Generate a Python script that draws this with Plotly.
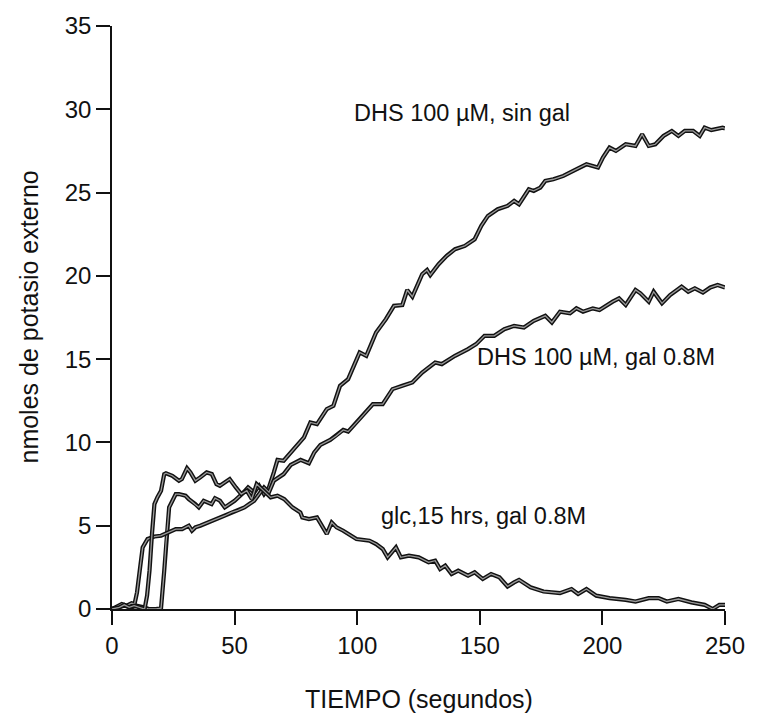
import plotly.graph_objects as go

# ---- data (time in s, nmol external K+) ----
sin_gal_x = [0, 3, 5, 8, 10, 13, 15, 18, 20, 21.3, 22, 23.3, 26, 27.3, 30, 31.3, 34, 35.4, 37.4,
             40.6, 42, 44, 46, 50, 53, 55.5, 58, 60, 62, 64, 66, 67.5, 70, 73, 75.6, 78.3, 80.9,
             83.6, 87.6, 90.3, 93, 96.3, 101, 103.7, 107.7, 111.7, 115, 118.4, 120.4, 122.5, 126.5,
             128.5, 129.8, 133.2, 136.5, 139.9, 143.9, 147.9, 150.6, 153.3, 157.3, 161.3, 164, 166,
             170, 172, 174.7, 176.7, 180, 184.1, 188.1, 193.5, 198.2, 200.2, 202.9, 205.5, 209.5,
             213.5, 216.2, 218.9, 221.6, 224.9, 228.3, 231, 233.6, 237, 239.7, 241.7, 244.4, 249, 250]
sin_gal_y = [0.0, 0.1, 0.2, 0.1, 0.2, 0.1, 0.0, 0.0, 0.05, 2.3, 3.9, 6.1, 6.9, 6.9, 6.8, 6.6, 6.3, 6.1, 6.5,
             6.3, 6.65, 6.5, 6.1, 6.5, 6.9, 7.3, 7.0, 7.4, 6.9, 7.3, 8.2, 8.95, 8.9, 9.4, 9.8, 10.3, 11.2,
             11.1, 12.0, 12.2, 13.4, 13.8, 15.4, 15.2, 16.6, 17.4, 18.2, 18.25, 19.15, 18.75, 20.1,
             20.35, 20.05, 20.7, 21.2, 21.6, 21.8, 22.2, 23.0, 23.6, 24.0, 24.2, 24.5, 24.3,
             25.2, 25.1, 25.3, 25.7, 25.8, 26.0, 26.3, 26.7, 26.5, 27.1, 27.7, 27.5, 27.9,
             27.8, 28.5, 27.8, 27.9, 28.4, 28.7, 28.4, 28.7, 28.7, 28.4, 28.9, 28.75, 28.9, 28.85]

gal_x = [0, 2, 4, 6, 8, 9.2, 10.2, 11.3, 12.5, 14.5, 17.3, 20, 23, 26, 28.6, 31.3, 32.6, 34, 36, 39.4,
         43.4, 46, 48.7, 51, 54, 56, 58, 60, 62, 64, 66, 70, 72.9, 76.9, 80.3, 82.5, 85, 89, 91.5,
         94.3, 96.3, 101, 104, 106.4, 110.4, 114.4, 118.4, 122.5, 126.5, 131.8, 134.5, 139.9, 145.2,
         148.5, 151.9, 155.9, 160, 164, 168, 172, 176.7, 179.4, 182.7, 186.8, 189.4, 192.1, 196.1,
         198.8, 204.2, 206.8, 209.5, 213.5, 215.5, 218.9, 220.9, 224.3, 227.6, 232.3, 235, 237.7,
         241, 244, 247, 250]
gal_y = [0.0, 0.15, 0.3, 0.2, 0.35, 0.3, 1.0, 2.3, 3.7, 4.2, 4.35, 4.4, 4.6, 4.8, 4.8, 5.0, 4.7, 4.9, 5.0, 5.2,
         5.45, 5.6, 5.8, 5.9, 6.1, 6.3, 6.5, 6.9, 7.3, 7.0, 7.7, 8.1, 8.65, 8.95, 8.75, 9.4, 9.85, 10.15, 10.4,
         10.75, 10.65, 11.4, 11.9, 12.3, 12.3, 13.2, 13.4, 13.6, 14.2, 14.8, 14.7, 15.2, 15.6,
         15.9, 16.4, 16.4, 16.8, 17.0, 16.9, 17.3, 17.6, 17.2, 17.85, 17.75, 18.05, 17.85, 18.05,
         17.95, 18.45, 18.65, 18.25, 19.15, 18.95, 18.45, 19.05, 18.35, 18.85, 19.35, 19.05, 19.25,
         19.0, 19.3, 19.45, 19.3]

glc_x = [0, 3, 5, 7, 9, 11, 13.3, 14.3, 15.3, 16.3, 17.3, 18.5, 20, 21.3, 22, 24.6, 27.3, 28.5, 30.6, 32,
         34, 36, 38.6, 40.7, 42.6, 44, 46, 48, 50.5, 52.7, 55, 57, 59, 61, 63, 64.7, 67.5, 70.2, 73.6,
         76.8, 77.6, 80.3, 83.6, 85.6, 87.6, 89.6, 91.6, 94.3, 97, 99.7, 105, 107.7, 110.4, 112.4,
         115.8, 117.8, 121.1, 125.1, 129.1, 131.8, 133.8, 135.9, 138.5, 141.2, 145.2, 147.9, 151.2,
         154.6, 158, 161.3, 164, 166, 170.7, 176, 182.7, 187.4, 190.1, 193.5, 197.5, 202.9, 209.5,
         213.5, 218.9, 222.9, 226.3, 231, 236.3, 241.7, 245, 247.7, 250]
glc_y = [0.0, 0.1, 0.25, 0.1, 0.2, 0.1, 0.0, 0.8, 2.3, 4.5, 6.3, 6.7, 7.1, 8.1, 8.15, 8.0, 7.7, 7.8, 8.45, 8.2,
         7.7, 7.9, 8.2, 8.1, 7.5, 7.4, 7.6, 7.8, 7.3, 6.9, 7.1, 6.6, 7.5, 7.2, 6.9, 6.7, 6.8, 6.6, 6.1,
         5.8, 5.5, 5.4, 5.5, 5.0, 4.5, 5.2, 4.9, 4.7, 4.45, 4.2, 4.1, 3.9, 3.6, 3.1,
         3.7, 3.1, 3.2, 3.1, 2.8, 2.9, 2.4, 2.6, 2.1, 2.3, 2.0, 2.2, 1.8,
         2.1, 1.9, 1.35, 1.6, 1.75, 1.3, 1.05, 0.95, 1.2, 0.9, 1.2, 0.8, 0.65, 0.55,
         0.45, 0.65, 0.65, 0.45, 0.6, 0.4, 0.25, 0.0, 0.25, 0.25]

labels = ["DHS 100 µM, sin gal", "DHS 100 µM, gal 0.8M", "glc,15 hrs, gal 0.8M"]
label_x = [98, 148, 109]
label_y = [29.8, 15.1, 5.6]

x_title = "TIEMPO (segundos)"
y_title = "nmoles de potasio externo"
x_ticks = [0, 50, 100, 150, 200, 250]
y_ticks = [0, 5, 10, 15, 20, 25, 30, 35]

FONT = "Liberation Sans, Arial, sans-serif"

fig = go.Figure()
for xs, ys in [(sin_gal_x, sin_gal_y), (gal_x, gal_y), (glc_x, glc_y)]:
    fig.add_trace(go.Scatter(x=xs, y=ys, mode="lines",
                             line=dict(color="#111111", width=4.2), showlegend=False, hoverinfo="skip"))
    fig.add_trace(go.Scatter(x=xs, y=ys, mode="lines",
                             line=dict(color="#9a9a9a", width=1.3), showlegend=False, hoverinfo="skip"))

for t, lx, ly in zip(labels, label_x, label_y):
    fig.add_annotation(x=lx, y=ly, text=t, showarrow=False, xanchor="left", yanchor="middle",
                       font=dict(family=FONT, size=23.5, color="#111111"))

fig.add_annotation(xref="paper", yref="paper", x=-0.137, y=0.5, xanchor="center", yanchor="middle",
                   text=y_title, textangle=-90,
                   showarrow=False, font=dict(family=FONT, size=25, color="#111111"))
fig.add_annotation(xref="paper", yref="paper", x=0.5, y=-0.155, xanchor="center", yanchor="middle",
                   text=x_title, showarrow=False, font=dict(family=FONT, size=25, color="#111111"))

axis_common = dict(showline=True, linecolor="#111111", linewidth=1.5, ticks="outside",
                   tickcolor="#111111", tickwidth=1.5, ticklen=14, showgrid=False, zeroline=False,
                   tickfont=dict(family=FONT, size=24, color="#111111"), mirror=False)
fig.update_xaxes(range=[0, 250], tickvals=x_ticks, **axis_common)
fig.update_yaxes(range=[0, 35], tickvals=y_ticks, **axis_common)

fig.update_layout(width=757, height=720, margin=dict(l=112, r=23, t=20, b=111),
                  plot_bgcolor="white", paper_bgcolor="white")

fig.write_html("out.html")
